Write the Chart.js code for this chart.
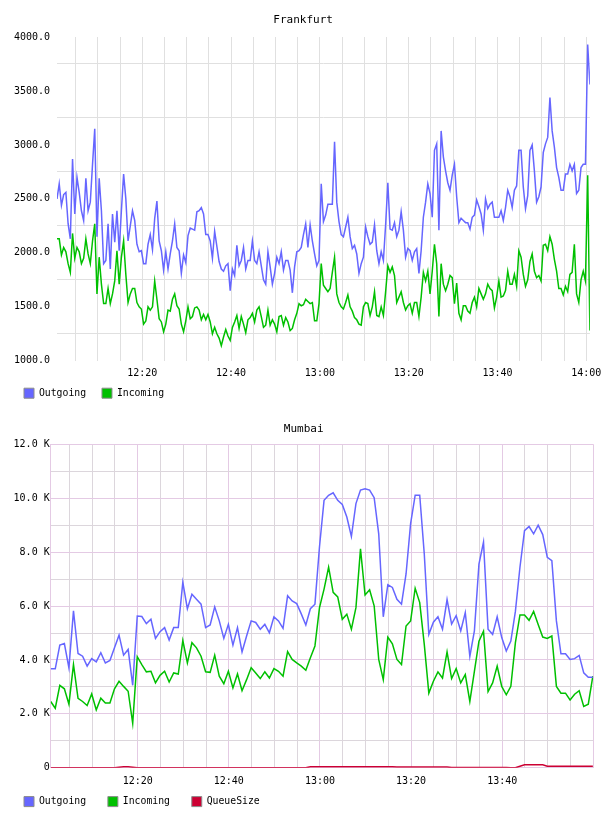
<!DOCTYPE html>
<html>
<head>
<meta charset="utf-8">
<script src="https://cdn.jsdelivr.net/npm/chart.js@4.4.1/dist/chart.umd.min.js"></script>
<style>
  html, body { margin: 0; padding: 0; background: #fff; overflow: hidden; }
  canvas { position: absolute; left: 0; }
  #frankfurt { top: 0; }
  #mumbai { top: 409px; }
</style>
</head>
<body>
<canvas id="frankfurt" width="608" height="409"></canvas>
<canvas id="mumbai" width="608" height="409"></canvas>
<script>
// x values are minutes after 12:00
const FRA_START = 0.8
const FRA_STEP = 0.5

const FRA_OUTGOING = [
  2500, 2640, 2440, 2540, 2560, 2270, 2130, 2870, 2360, 2700,
  2560, 2390, 2300, 2690, 2390, 2470, 2820, 3150, 2150, 2690,
  2390, 1900, 1930, 2270, 1850, 2360, 2100, 2390, 2020, 2390,
  2730, 2500, 2110, 2250, 2390, 2300, 2080, 2010, 2020, 1900,
  1900, 2080, 2170, 2030, 2320, 2480, 2110, 2020, 1840, 2010,
  1850, 1990, 2110, 2270, 2050, 2020, 1810, 1980, 1910, 2160,
  2230,
  2220, 2210, 2380, 2390, 2420, 2360, 2170, 2170, 2110, 1950,
  2200, 2060, 1920, 1850, 1830, 1880, 1900, 1650, 1850, 1790,
  2070, 1880, 1930, 2050, 1850, 1930, 1930, 2110, 1930, 1900,
  2010, 1880, 1750, 1710, 2010, 1870, 1710, 1810, 1960, 1900,
  2010, 1840, 1930, 1930, 1840, 1630, 1870, 2010, 2020, 2050,
  2170, 2270, 2050, 2260, 2110, 1990, 1880, 1930, 2640, 2290,
  2350, 2450, 2450, 2450, 3030, 2470, 2290, 2170, 2150, 2240,
  2330, 2150, 2040, 2070, 1990, 1810, 1900, 1960, 2240, 2150,
  2080, 2100, 2260, 2020, 1900, 2010, 1930, 2260, 2650, 2220,
  2210, 2280, 2150, 2210, 2380, 2210, 1960, 2040, 2020, 1930,
  2010, 2040, 1810, 2020, 2330, 2470, 2640, 2550, 2330, 2950,
  3010, 2210, 3130, 2890, 2760, 2650, 2580, 2720, 2820, 2520,
  2280, 2320, 2300, 2280, 2280, 2220, 2330, 2350, 2490, 2430,
  2360, 2210, 2500, 2410, 2450, 2470, 2330, 2330, 2330, 2390,
  2300, 2420, 2580, 2520, 2420, 2580, 2620, 2950, 2950, 2610,
  2410, 2530, 2950, 3000, 2760, 2470, 2520, 2610, 2930, 3010,
  3070, 3440, 3130, 2980, 2790, 2700, 2580, 2580, 2730, 2730,
  2820, 2760, 2820, 2550, 2580, 2790, 2820, 2820, 3930, 3560
]

const FRA_INCOMING = [
  2130, 2130, 1980, 2050, 2010, 1900, 1820, 2180, 1950, 2050,
  2010, 1900, 1950, 2130, 1990, 1900, 2110, 2270, 1620, 1960,
  1710, 1530, 1530, 1670, 1530, 1620, 1740, 2020, 1710, 1960,
  2110, 1800, 1540, 1620, 1670, 1670, 1540, 1500, 1480, 1340,
  1370, 1500, 1470, 1500, 1740, 1570, 1390, 1360, 1270, 1340,
  1470, 1460, 1570, 1620, 1510, 1480, 1340, 1270, 1370, 1500,
  1390,
  1410, 1490, 1500, 1470, 1380, 1430, 1380, 1430, 1360, 1250,
  1310, 1250, 1210, 1140, 1220, 1290, 1230, 1190, 1310, 1360,
  1420, 1300, 1410, 1340, 1260, 1380, 1400, 1440, 1360, 1470,
  1500, 1410, 1310, 1330, 1470, 1330, 1380, 1340, 1270, 1410,
  1420, 1330, 1400, 1360, 1280, 1300, 1380, 1440, 1530, 1510,
  1520, 1570, 1550, 1530, 1540, 1370, 1370, 1530, 1900, 1700,
  1670, 1640, 1670, 1820, 1960, 1620, 1540, 1500, 1480, 1540,
  1610, 1500, 1460, 1400, 1380, 1340, 1330, 1500, 1540, 1530,
  1420, 1500, 1640, 1420, 1410, 1500, 1420, 1640, 1880, 1820,
  1870, 1790, 1540, 1590, 1640, 1540, 1470, 1510, 1530, 1440,
  1540, 1540, 1410, 1590, 1820, 1740, 1830, 1620, 1830, 2080,
  1900, 1410, 1900, 1710, 1650, 1710, 1790, 1770, 1530, 1720,
  1440, 1380, 1510, 1510, 1460, 1440, 1540, 1590, 1500, 1670,
  1620, 1570, 1620, 1710, 1670, 1650, 1490, 1590, 1740, 1590,
  1600, 1650, 1830, 1710, 1710, 1800, 1690, 2020, 1960, 1800,
  1690, 1750, 1920, 1990, 1830, 1770, 1790, 1740, 2070, 2080,
  2020, 2150, 2080, 1940, 1830, 1670, 1670, 1610, 1690, 1640,
  1800, 1820, 2080, 1620, 1540, 1750, 1830, 1740, 2720, 1280
]

const MUM_START = 0.9
const MUM_STEP = 1

const MUM_OUTGOING = [
  3670, 3670, 4550, 4610, 3710, 5820, 4240, 4140, 3770, 4050,
  3930, 4270, 3890, 3980, 4450, 4920, 4180, 4390, 3060, 5630,
  5610, 5350, 5510, 4800, 5050, 5200, 4740, 5200, 5200, 6880,
  5900, 6440, 6250, 6070, 5200, 5300, 5970, 5450, 4800, 5320,
  4550, 5200, 4300, 4890, 5450, 5390, 5140, 5320, 5010, 5600,
  5450, 5170, 6380, 6190, 6090, 5710, 5300, 5900, 6070, 8200,
  9920, 10110, 10200, 9920, 9770, 9300, 8580, 9800, 10300, 10350,
  10300, 10020, 8680, 5600, 6790, 6690, 6250, 6070, 7190, 9060,
  10110, 10110, 7930, 4950, 5400, 5600, 5140, 6240, 5330, 5640,
  5080, 5760, 4130, 5080, 7560, 8370, 5140, 4950, 5600, 4830,
  4330, 4700, 5800, 7440, 8800, 8950, 8680, 9000, 8650, 7810,
  7680, 5450, 4230, 4230, 4020, 4050, 4170, 3520, 3360, 3360
]

const MUM_INCOMING = [
  2460, 2210, 3060, 2930, 2360, 3830, 2580, 2460, 2310, 2740,
  2150, 2580, 2400, 2400, 2930, 3210, 3020, 2840, 1650, 4120,
  3830, 3560, 3580, 3150, 3430, 3580, 3180, 3520, 3480, 4720,
  3890, 4640, 4450, 4140, 3560, 3540, 4180, 3400, 3120, 3580,
  2960, 3480, 2860, 3270, 3710, 3520, 3310, 3560, 3330, 3680,
  3580, 3400, 4310, 4020, 3890, 3770, 3620, 4080, 4520, 5940,
  6630, 7440, 6510, 6340, 5510, 5700, 5140, 5940, 8120, 6410,
  6600, 6010, 4020, 3270, 4850, 4600, 4020, 3830, 5260, 5450,
  6660, 6130, 4580, 2770, 3210, 3560, 3330, 4300, 3310, 3680,
  3150, 3460, 2460, 3580, 4700, 5070, 2830, 3150, 3770, 3020,
  2710, 3020, 4640, 5670, 5670, 5470, 5800, 5320, 4850, 4800,
  4890, 3020, 2770, 2770, 2520, 2730, 2860, 2280, 2360, 3400
]

const MUM_QUEUE = [
  0, 0, 0, 0, 0, 0, 0, 0, 0, 0,
  0, 0, 0, 0, 0, 20, 40, 40, 20, 0,
  0, 0, 0, 0, 0, 0, 0, 0, 0, 0,
  0, 0, 0, 0, 0, 0, 0, 0, 0, 0,
  0, 0, 0, 0, 0, 0, 0, 0, 0, 0,
  0, 0, 0, 0, 0, 0, 0, 40, 40, 40,
  40, 40, 40, 40, 40, 40, 40, 40, 40, 40,
  40, 40, 40, 40, 40, 40, 30, 30, 30, 30,
  30, 30, 30, 30, 30, 30, 30, 30, 10, 10,
  10, 10, 10, 10, 10, 10, 10, 10, 10, 10,
  10, 0, 0, 60, 110, 110, 110, 110, 110, 60,
  60, 60, 60, 60, 60, 60, 60, 60, 60, 60
]

const X_TICKS = [5, 10, 15, 20, 25, 30, 35, 40, 45, 50, 55, 60,
  65, 70, 75, 80, 85, 90, 95, 100, 105, 110, 115, 120]
const FRA_Y_TICKS = [1000, 1250, 1500, 1750, 2000, 2250, 2500, 2750, 3000, 3250, 3500, 3750, 4000]
const MUM_Y_TICKS = [0, 1000, 2000, 3000, 4000, 5000, 6000, 7000, 8000, 9000, 10000, 11000, 12000]

const COLORS = {
  outgoing: '#6666ff',
  incoming: '#00c000',
  queue: '#cc0033',
  grid: '#e0e0e0',
  gridMinor: '#dcd6dc',
  gridMajor: '#e4cae4'
}

const MONO = "'DejaVu Sans Mono', monospace"

function clockLabel(min) {
  const h = 12 + Math.floor(min / 60)
  const m = min % 60
  return h + ':' + String(m).padStart(2, '0')
}

function toPoints(values, start, step) {
  return values.map((v, i) => ({ x: start + i * step, y: v }))
}

function lineSet(label, values, start, step, color) {
  return {
    label: label,
    data: toPoints(values, start, step),
    borderColor: color,
    backgroundColor: color,
    borderWidth: 1.5,
    pointRadius: 0,
    tension: 0,
    fill: false
  }
}

// legend entries sit in equal-width columns (longest label + one space)
function legendLabels(chart) {
  const sets = chart.data.datasets
  const longest = Math.max(...sets.map(ds => ds.label.length))
  return sets.map((ds, i) => ({
    text: ds.label.padEnd(longest + 1),
    fillStyle: ds.borderColor,
    strokeStyle: '#8c8c8c',
    lineWidth: 1,
    fontColor: '#000',
    hidden: false,
    datasetIndex: i
  }))
}

function setTicks(list) {
  return (scale) => { scale.ticks = list.map(v => ({ value: v })) }
}

const legendOptions = {
  position: 'bottom',
  align: 'start',
  labels: {
    boxWidth: 10,
    boxHeight: 10,
    padding: 10,
    color: '#000',
    font: { family: MONO, size: 9.8 },
    generateLabels: legendLabels
  }
}

// Frankfurt
new Chart(document.getElementById('frankfurt'), {
  type: 'line',
  data: {
    datasets: [
      lineSet('Outgoing', FRA_OUTGOING, FRA_START, FRA_STEP, COLORS.outgoing),
      lineSet('Incoming', FRA_INCOMING, FRA_START, FRA_STEP, COLORS.incoming)
    ]
  },
  options: {
    responsive: false,
    animation: false,
    events: [],
    layout: { padding: { left: 14, right: 15.7, top: 0, bottom: 0.8 } },
    plugins: {
      title: {
        display: true,
        text: 'Frankfurt',
        color: '#000',
        font: { family: MONO, size: 11, weight: 'normal' },
        padding: { top: 14, bottom: 9.8 }
      },
      legend: legendOptions,
      tooltip: { enabled: false }
    },
    scales: {
      x: {
        type: 'linear',
        min: 0.8,
        max: 120.8,
        afterBuildTicks: setTicks(X_TICKS),
        afterFit: (s) => { s.height = 17.4 },
        grid: { color: COLORS.grid, drawTicks: false },
        border: { display: false },
        ticks: {
          autoSkip: false,
          maxRotation: 0,
          padding: 6.5,
          color: '#000',
          font: { family: MONO, size: 10 },
          callback: (v) => v % 20 === 0 ? clockLabel(v) : ''
        }
      },
      y: {
        type: 'linear',
        min: 1000,
        max: 4000,
        afterBuildTicks: setTicks(FRA_Y_TICKS),
        afterFit: (s) => { s.width = 43 },
        grid: {
          color: (c) => c.tick && c.tick.value % 500 === 250 ? COLORS.grid : 'rgba(0,0,0,0)',
          drawTicks: false
        },
        border: { display: false },
        ticks: {
          padding: 7,
          color: '#000',
          font: { family: MONO, size: 10 },
          callback: (v) => v % 500 === 0 ? v.toFixed(1) : ''
        }
      }
    }
  }
})

// Mumbai
new Chart(document.getElementById('mumbai'), {
  type: 'line',
  data: {
    datasets: [
      lineSet('Outgoing', MUM_OUTGOING, MUM_START, MUM_STEP, COLORS.outgoing),
      lineSet('Incoming', MUM_INCOMING, MUM_START, MUM_STEP, COLORS.incoming),
      lineSet('QueueSize', MUM_QUEUE, MUM_START, MUM_STEP, COLORS.queue)
    ]
  },
  options: {
    responsive: false,
    animation: false,
    events: [],
    layout: { padding: { left: 14, right: 14.7, top: 0, bottom: 1.4 } },
    plugins: {
      title: {
        display: true,
        text: 'Mumbai',
        color: '#000',
        font: { family: MONO, size: 11, weight: 'normal' },
        padding: { top: 13.5, bottom: 8.6 }
      },
      legend: legendOptions,
      tooltip: { enabled: false }
    },
    scales: {
      x: {
        type: 'linear',
        min: 0.9,
        max: 120,
        afterBuildTicks: setTicks(X_TICKS),
        afterFit: (s) => { s.height = 18.8 },
        grid: {
          color: (c) => c.tick && c.tick.value % 20 === 0 ? COLORS.gridMajor : COLORS.gridMinor,
          drawTicks: false
        },
        border: { display: true, color: COLORS.gridMajor },
        ticks: {
          autoSkip: false,
          maxRotation: 0,
          padding: 8,
          color: '#000',
          font: { family: MONO, size: 10 },
          callback: (v) => v % 20 === 0 && v < 120 ? clockLabel(v) : ''
        }
      },
      y: {
        type: 'linear',
        min: 0,
        max: 12000,
        afterBuildTicks: setTicks(MUM_Y_TICKS),
        afterFit: (s) => { s.width = 36.7 },
        grid: {
          color: (c) => c.tick && c.tick.value % 2000 === 0 ? COLORS.gridMajor : COLORS.gridMinor,
          drawTicks: false
        },
        border: { display: true, color: COLORS.gridMajor },
        ticks: {
          padding: 1,
          color: '#000',
          font: { family: MONO, size: 10 },
          callback: (v) => {
            if (v % 2000 !== 0) return ''
            return v === 0 ? '0' : (v / 1000).toFixed(1) + ' K'
          }
        }
      }
    }
  }
})
</script>
</body>
</html>
